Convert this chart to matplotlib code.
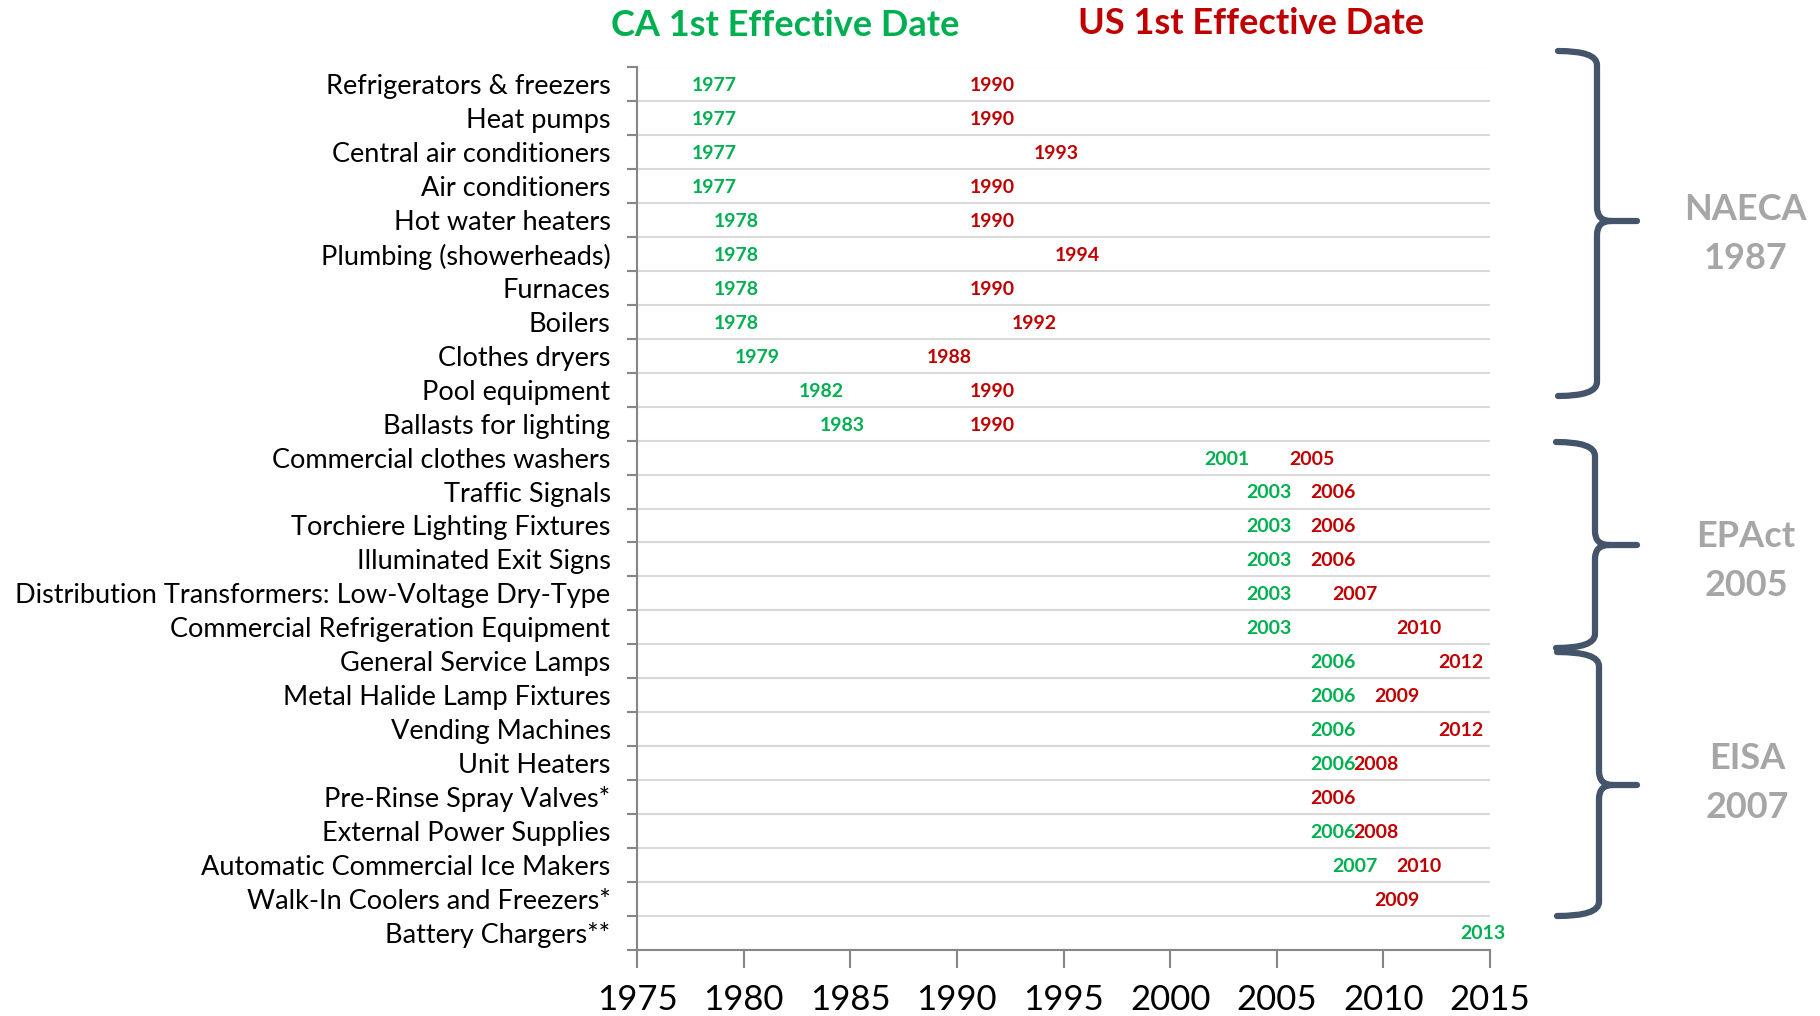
import numpy as np
import matplotlib.pyplot as plt
from matplotlib.path import Path
from matplotlib.patches import PathPatch

plt.rcParams['font.family'] = ['Lato', 'DejaVu Sans']

categories = ['Refrigerators & freezers', 'Heat pumps', 'Central air conditioners',
              'Air conditioners', 'Hot water heaters', 'Plumbing (showerheads)',
              'Furnaces', 'Boilers', 'Clothes dryers', 'Pool equipment',
              'Ballasts for lighting', 'Commercial clothes washers', 'Traffic Signals',
              'Torchiere Lighting Fixtures', 'Illuminated Exit Signs',
              'Distribution Transformers: Low-Voltage Dry-Type',
              'Commercial Refrigeration Equipment', 'General Service Lamps',
              'Metal Halide Lamp Fixtures', 'Vending Machines', 'Unit Heaters',
              'Pre-Rinse Spray Valves*', 'External Power Supplies',
              'Automatic Commercial Ice Makers', 'Walk-In Coolers and Freezers*',
              'Battery Chargers**']
ca_year = [1977, 1977, 1977, 1977, 1978, 1978, 1978, 1978, 1979, 1982, 1983,
           2001, 2003, 2003, 2003, 2003, 2003, 2006, 2006, 2006, 2006, None,
           2006, 2007, None, 2013]
us_year = [1990, 1990, 1993, 1990, 1990, 1994, 1990, 1992, 1988, 1990, 1990,
           2005, 2006, 2006, 2006, 2007, 2010, 2012, 2009, 2012, 2008, 2006,
           2008, 2010, 2009, None]
x_ticks = list(range(1975, 2016, 5))
groups = ['NAECA\n1987', 'EPAct\n2005', 'EISA\n2007']

green = '#00B050'
red = '#C00000'
W, H = 1820, 1016

fig = plt.figure(figsize=(W / 100, H / 100), dpi=100)
ax = fig.add_axes([637 / W, 1 - 949.5 / H, 853 / W, 882 / H])

y = np.arange(len(categories))
for yi, ca, us in zip(y, ca_year, us_year):
    if ca is not None:
        ax.annotate(str(ca), (ca, yi), xytext=(9, -1), textcoords='offset points',
                    ha='left', va='center', color=green, fontsize=14, fontweight='bold')
    if us is not None:
        ax.annotate(str(us), (us, yi), xytext=(9, -1), textcoords='offset points',
                    ha='left', va='center', color=red, fontsize=14, fontweight='bold')

ax.set_xlim(1975, 2015)
ax.set_ylim(len(categories) - 0.5, -0.5)
ax.set_xticks(x_ticks)
ax.set_yticks(y, categories)
ax.set_yticks(np.arange(-0.5, len(categories)), minor=True)
ax.grid(axis='y', which='minor', color='#D9D9D9', lw=1.5)
ax.set_axisbelow(True)
ax.tick_params(axis='y', which='major', length=0, pad=19, labelsize=19.5)
ax.tick_params(axis='y', which='minor', length=7, width=1.5, color='#868686')
ax.tick_params(axis='x', length=13, width=1.5, color='#868686', labelsize=25, pad=12)
for s in ['top', 'right']:
    ax.spines[s].set_visible(False)
for s in ['left', 'bottom']:
    ax.spines[s].set_color('#868686')
    ax.spines[s].set_linewidth(1.5)

fig.text(785 / W, 1 - 26 / H, 'CA 1st Effective Date', color=green, fontsize=26,
         fontweight='bold', ha='center', va='center')
fig.text(1251 / W, 1 - 24 / H, 'US 1st Effective Date', color=red, fontsize=26,
         fontweight='bold', ha='center', va='center')


def brace(x0, xv, xp, yt, yb, ym, r=14):
    pts = [(x0, yt), (xv, yt), (xv, yt + r),
           (xv, ym - r), (xv, ym), (xv + r, ym), (xp, ym),
           (xv + r, ym), (xv, ym), (xv, ym + r),
           (xv, yb - r), (xv, yb), (x0, yb)]
    codes = [Path.MOVETO, Path.CURVE3, Path.CURVE3,
             Path.LINETO, Path.CURVE3, Path.CURVE3, Path.LINETO,
             Path.MOVETO, Path.CURVE3, Path.CURVE3,
             Path.LINETO, Path.CURVE3, Path.CURVE3]
    pts = [(px / W, 1 - py / H) for px, py in pts]
    fig.patches.append(PathPatch(Path(pts, codes), transform=fig.transFigure,
                                 fill=False, edgecolor='#44546A', lw=4.5,
                                 capstyle='round', joinstyle='round'))


brace(1558, 1597, 1637, 51, 396, 221)
brace(1556, 1595, 1637, 442, 648, 545)
brace(1557, 1599, 1637, 652, 916, 785)

for label, (gx, gy) in zip(groups, [(1745, 234), (1746, 561), (1747, 783)]):
    fig.text(gx / W, 1 - gy / H, label, color='#A6A6A6', fontsize=26,
             fontweight='bold', ha='center', va='center', linespacing=1.6)

fig.savefig('out.png', dpi=100)
